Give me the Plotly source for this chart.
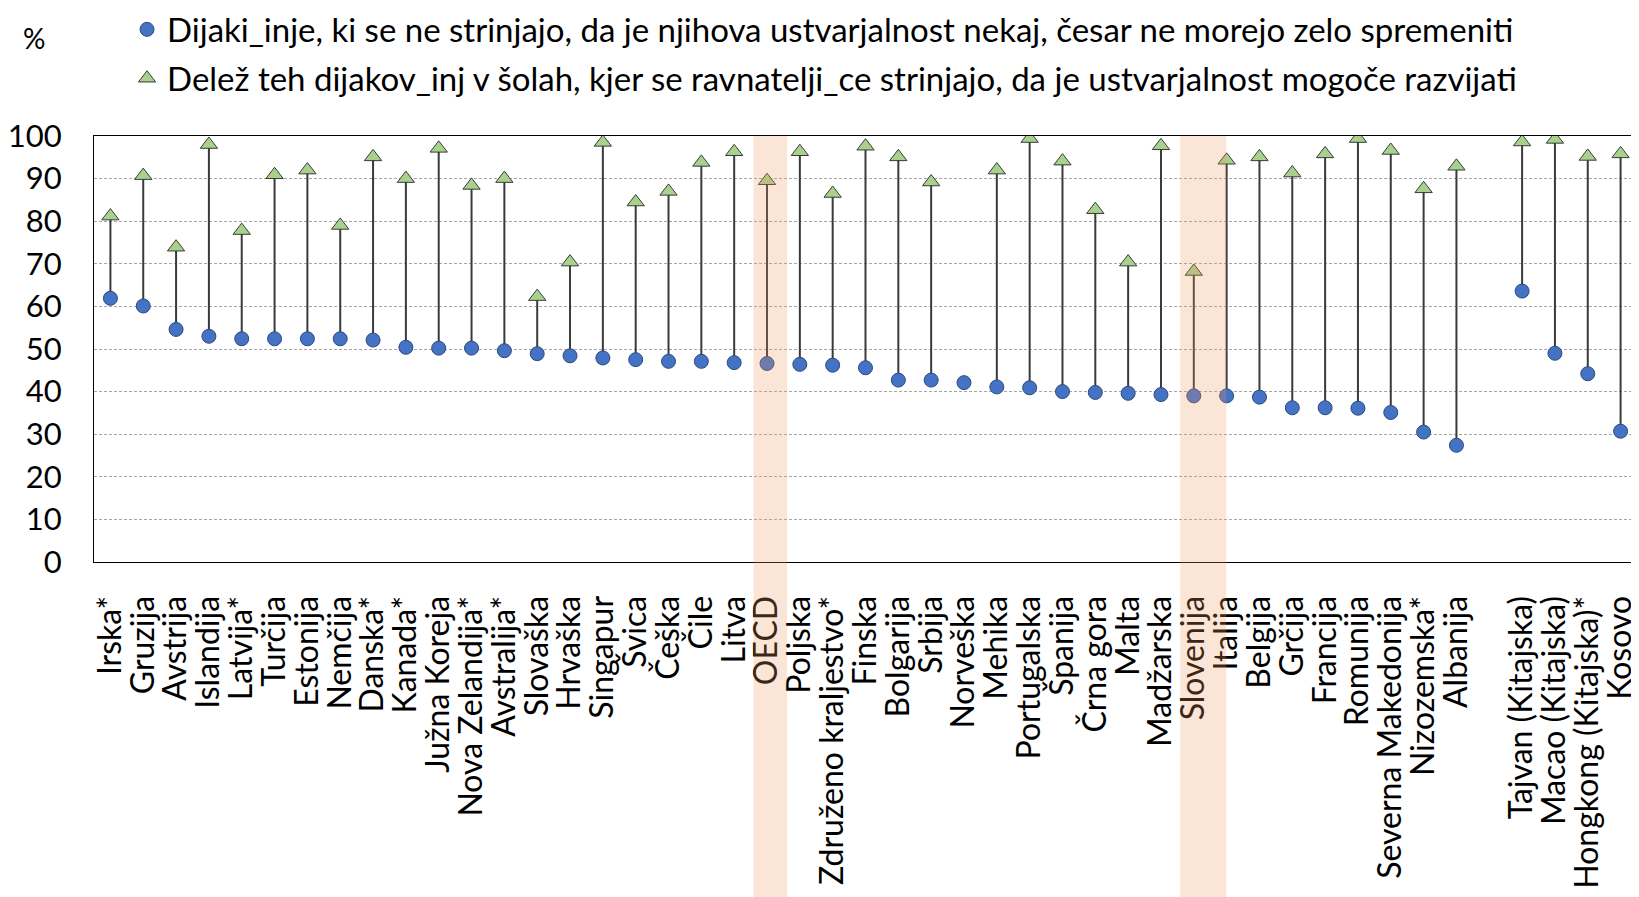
import plotly.graph_objects as go

categories = ["Irska*", "Gruzija", "Avstrija", "Islandija", "Latvija*", "Turčija", "Estonija",
              "Nemčija", "Danska*", "Kanada*", "Južna Koreja", "Nova Zelandija*", "Avstralija*",
              "Slovaška", "Hrvaška", "Singapur", "Švica", "Češka", "Čile", "Litva", "OECD",
              "Poljska", "Združeno kraljestvo*", "Finska", "Bolgarija", "Srbija", "Norveška",
              "Mehika", "Portugalska", "Španija", "Črna gora", "Malta", "Madžarska", "Slovenija",
              "Italija", "Belgija", "Grčija", "Francija", "Romunija", "Severna Makedonija",
              "Nizozemska*", "Albanija", " ", "Tajvan (Kitajska)", "Macao (Kitajska)",
              "Hongkong (Kitajska)*", "Kosovo"]

students = [61.9, 60.1, 54.6, 53.0, 52.4, 52.4, 52.4, 52.4, 52.1, 50.4, 50.2, 50.2, 49.6,
            48.9, 48.4, 47.9, 47.5, 47.1, 47.1, 46.8, 46.6, 46.4, 46.2, 45.6, 42.7, 42.7, 42.1,
            41.1, 40.9, 40.0, 39.8, 39.6, 39.3, 39.0, 39.0, 38.7, 36.2, 36.2, 36.1, 35.1,
            30.5, 27.4, None, 63.6, 49.0, 44.2, 30.7]

principals = [81.2, 90.7, 73.9, 98.0, 77.8, 90.9, 92.0, 79.0, 95.1, 90.0, 97.1, 88.4, 90.0,
              62.3, 70.4, 98.5, 84.5, 87.0, 93.8, 96.3, 89.5, 96.3, 86.5, 97.6, 95.1, 89.2, None,
              92.0, 99.4, 94.1, 82.7, 70.4, 97.7, 68.2, 94.3, 95.1, 91.3, 95.8, 99.4, 96.6,
              87.6, 92.9, None, 98.6, 99.2, 95.2, 95.8]

name_students = "Dijaki_inje, ki se ne strinjajo, da je njihova ustvarjalnost nekaj, česar ne morejo zelo spremeniti"
name_principals = "Delež teh dijakov_inj v šolah, kjer se ravnatelji_ce strinjajo, da je ustvarjalnost mogoče razvijati"
highlighted = ["OECD", "Slovenija"]
y_ticks = list(range(0, 101, 10))

FONT = "Lato"

# connector lines built from the data
lx, ly = [], []
for c, a, b in zip(categories, students, principals):
    if a is not None and b is not None:
        lx += [c, c, None]
        ly += [a, b, None]

fig = go.Figure()
fig.add_trace(go.Scatter(x=lx, y=ly, mode="lines", line=dict(color="#3A3A3A", width=2),
                         showlegend=False, hoverinfo="skip"))
fig.add_trace(go.Scatter(x=categories, y=students, mode="markers", name=name_students,
                         legendgroup="a",
                         marker=dict(symbol="circle", size=14, color="#4472C4",
                                     line=dict(color="#2E4A7A", width=1))))
fig.add_trace(go.Scatter(x=categories, y=principals, mode="markers", name=name_principals,
                         legendgroup="b",
                         marker=dict(symbol="triangle-up", size=15, color="#A9D18E",
                                     line=dict(color="#3A3A3A", width=1))))

shapes = []
band_ext = {"OECD": (-0.41, 0.61), "Slovenija": (-0.41, 0.99)}
for h in highlighted:
    i = categories.index(h)
    d0, d1 = band_ext[h]
    shapes.append(dict(type="rect", xref="x", yref="paper", x0=i + d0, x1=i + d1,
                       y0=-0.8, y1=1, fillcolor="rgba(239,151,91,0.25)", line=dict(width=0),
                       layer="above"))

fig.update_layout(
    width=1631, height=889,
    margin=dict(l=86, r=2, t=128, b=335, autoexpand=False),
    paper_bgcolor="white", plot_bgcolor="white",
    font=dict(family=FONT, size=32, color="black"),
    showlegend=True,
    legend=dict(xref="paper", yref="paper", x=0.0214, y=1.316, xanchor="left",
                yanchor="top", font=dict(family=FONT, size=33), tracegroupgap=3,
                bgcolor="rgba(0,0,0,0)", itemwidth=30),
    shapes=shapes,
    annotations=[dict(text="%", xref="paper", yref="paper", x=-0.0386,
                      y=1.231, xanchor="center", yanchor="middle", showarrow=False,
                      font=dict(family=FONT, size=28))],
)
fig.update_xaxes(type="category", categoryorder="array", categoryarray=categories,
                 tickmode="array", tickvals=categories, ticktext=categories,
                 range=[-0.5, len(categories) - 0.5], tickangle=-90,
                 tickfont=dict(family=FONT, size=32), showgrid=False,
                 showline=True, linecolor="black", linewidth=1.2, mirror=True,
                 ticks="", ticklabelstandoff=20)
fig.update_yaxes(range=[0, 100], tickvals=y_ticks, tickfont=dict(family=FONT, size=31),
                 showgrid=True, gridcolor="#A6A6A6", gridwidth=1, griddash="3px,2px",
                 showline=True, linecolor="black", linewidth=1.2, mirror=True,
                 zeroline=False, ticks="", ticklabelstandoff=25)

fig.write_html("out.html")
